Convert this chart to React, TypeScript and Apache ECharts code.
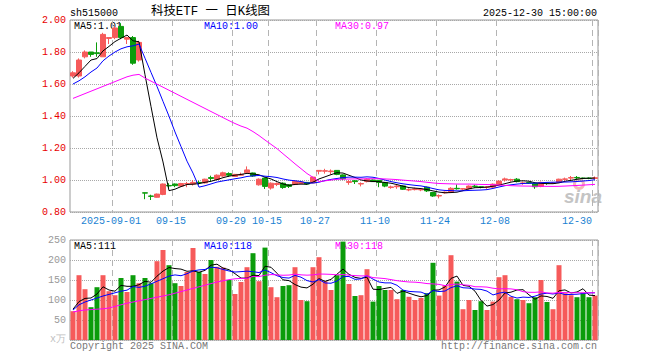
import React, { useEffect, useRef } from 'react';
import * as echarts from 'echarts';

// ---------- data ----------
const dates = [
  '2025-08-21','2025-08-22','2025-08-25','2025-08-26','2025-08-27','2025-08-28','2025-08-29',
  '2025-09-01','2025-09-02','2025-09-03','2025-09-04','2025-09-05',
  '2025-09-08','2025-09-09','2025-09-10','2025-09-11','2025-09-12',
  '2025-09-15','2025-09-16','2025-09-17','2025-09-18','2025-09-19',
  '2025-09-22','2025-09-23','2025-09-24','2025-09-25','2025-09-26',
  '2025-09-29','2025-09-30','2025-10-09','2025-10-10',
  '2025-10-13','2025-10-14','2025-10-15','2025-10-16','2025-10-17',
  '2025-10-20','2025-10-21','2025-10-22','2025-10-23','2025-10-24',
  '2025-10-27','2025-10-28','2025-10-29','2025-10-30','2025-10-31',
  '2025-11-03','2025-11-04','2025-11-05','2025-11-06','2025-11-07',
  '2025-11-10','2025-11-11','2025-11-12','2025-11-13','2025-11-14',
  '2025-11-17','2025-11-18','2025-11-19','2025-11-20','2025-11-21',
  '2025-11-24','2025-11-25','2025-11-26','2025-11-27','2025-11-28',
  '2025-12-01','2025-12-02','2025-12-03','2025-12-04','2025-12-05',
  '2025-12-08','2025-12-09','2025-12-10','2025-12-11','2025-12-12',
  '2025-12-15','2025-12-16','2025-12-17','2025-12-18','2025-12-19',
  '2025-12-22','2025-12-23','2025-12-24','2025-12-25','2025-12-26',
  '2025-12-29','2025-12-30',
];

const opens = [
  1.65, 1.65, 1.77, 1.80, 1.795, 1.77, 1.885, 1.89, 1.96, 1.88,
  1.89, 1.75, 0.92, 0.90, 0.892, 0.91, 0.966, 0.975, 0.962, 0.975,
  0.975, 0.985, 0.982, 1.015, 1.003, 1.025, 1.04, 1.022, 1.03, 1.045,
  1.044, 0.97, 1.012, 0.95, 0.972, 0.98, 0.97, 0.972, 0.978, 0.985,
  0.982, 1.055, 1.055, 1.052, 1.06, 1.032, 0.985, 0.995, 0.975, 0.99,
  1.0, 0.998, 0.985, 0.953, 0.958, 0.963, 0.938, 0.94, 0.938, 0.955,
  0.922, 0.90, 0.92, 0.924, 0.948, 0.943, 0.945, 0.962, 0.958, 0.954,
  0.955, 0.972, 1.0, 1.0, 1.005, 0.978, 0.984, 0.98, 0.96, 0.982,
  0.978, 0.985, 1.004, 1.012, 1.016, 1.012, 1.012, 1.01,
];
const closes = [
  1.67, 1.75, 1.80, 1.785, 1.79, 1.91, 1.89, 1.95, 1.89, 1.89,
  1.73, 1.86, 0.918, 0.898, 0.912, 0.975, 0.963, 0.965, 0.978, 0.978,
  0.985, 0.982, 1.005, 1.01, 1.03, 1.045, 1.03, 1.035, 1.035, 1.063,
  1.025, 1.005, 0.96, 0.98, 0.978, 0.953, 0.96, 0.992, 0.988, 0.975,
  1.018, 1.06, 1.058, 1.056, 1.035, 1.008, 0.99, 0.99, 0.978, 1.005,
  0.99, 0.985, 0.962, 0.957, 0.962, 0.942, 0.94, 0.945, 0.942, 0.932,
  0.90, 0.903, 0.924, 0.948, 0.945, 0.946, 0.962, 0.958, 0.955, 0.957,
  0.974, 0.993, 1.007, 1.003, 0.99, 0.982, 0.98, 0.958, 0.985, 0.98,
  0.982, 1.005, 1.007, 1.015, 1.013, 1.01, 1.01, 1.014,
];
const lows = [
  1.64, 1.64, 1.76, 1.77, 1.77, 1.77, 1.85, 1.88, 1.88, 1.85,
  1.72, 1.74, 0.88, 0.875, 0.89, 0.905, 0.945, 0.955, 0.958, 0.955,
  0.965, 0.97, 0.978, 0.99, 1.0, 1.02, 1.02, 1.02, 1.028, 1.04,
  1.02, 0.965, 0.944, 0.94, 0.962, 0.945, 0.95, 0.968, 0.975, 0.97,
  0.98, 1.035, 1.04, 1.035, 1.03, 1.0, 0.97, 0.975, 0.96, 0.985,
  0.988, 0.955, 0.955, 0.945, 0.945, 0.938, 0.93, 0.935, 0.93, 0.925,
  0.895, 0.885, 0.915, 0.92, 0.94, 0.935, 0.94, 0.952, 0.948, 0.945,
  0.95, 0.968, 0.99, 0.99, 0.985, 0.97, 0.975, 0.945, 0.955, 0.97,
  0.975, 0.982, 0.995, 1.0, 1.005, 1.005, 1.005, 1.005,
];
const highs = [
  1.68, 1.76, 1.81, 1.80, 1.86, 1.92, 1.89, 1.96, 1.98, 1.895,
  1.90, 1.87, 0.921, 0.908, 0.915, 0.978, 0.98, 0.978, 0.982, 0.988,
  1.00, 0.995, 1.008, 1.027, 1.035, 1.052, 1.048, 1.038, 1.046, 1.085,
  1.046, 1.01, 1.015, 0.985, 0.985, 0.985, 0.975, 0.997, 0.99, 0.988,
  1.02, 1.062, 1.07, 1.066, 1.062, 1.035, 1.0, 1.0, 0.985, 1.01,
  1.003, 1.0, 0.988, 0.965, 0.968, 0.966, 0.948, 0.952, 0.948, 0.958,
  0.925, 0.91, 0.928, 0.955, 0.972, 0.95, 0.966, 0.97, 0.962, 0.962,
  0.978, 0.998, 1.015, 1.008, 1.012, 0.99, 0.988, 0.983, 0.99, 0.985,
  0.988, 1.008, 1.015, 1.025, 1.025, 1.015, 1.016, 1.022,
];
// volume (万手)
const volumes = [
  72, 162, 127, 82, 132, 162, 122, 112, 155, 120,
  162, 142, 155, 142, 197, 225, 187, 142, 135, 170,
  230, 170, 165, 200, 183, 181, 150, 115, 145, 182,
  217, 147, 231, 132, 107, 135, 137, 182, 100, 97,
  182, 207, 147, 125, 162, 246, 140, 110, 112, 177,
  96, 135, 125, 125, 102, 125, 108, 100, 105, 117,
  193, 111, 137, 212, 146, 77, 100, 75, 97, 75,
  96, 157, 162, 108, 102, 100, 92, 107, 150, 95,
  77, 187, 117, 112, 107, 118, 107, 111,
];

// moving-average values for the first bars (history before the window)
const ma5Head = [1.635, 1.67, 1.71, 1.75];
const ma10Head = [1.60, 1.62, 1.645, 1.675, 1.70, 1.745, 1.775, 1.80, 1.82];
const ma30Head = [
  1.51, 1.525, 1.54, 1.555, 1.57, 1.585, 1.60, 1.615, 1.63, 1.645,
  1.655, 1.66, 1.637, 1.618, 1.599, 1.58, 1.561, 1.542, 1.523, 1.504,
  1.485, 1.466, 1.447, 1.428, 1.409, 1.39, 1.371, 1.353, 1.337,
];
const vma5Head = [77, 96, 104, 105];
const vma10Head = [75, 88, 95, 100, 105, 110, 114, 118, 122];
const vma30Head = [
  70, 73, 75, 76, 77, 78, 80, 84, 88, 92,
  95, 98, 101, 104, 107, 110, 113, 117, 121, 125,
  129, 133, 137, 141, 145, 148, 151, 153, 154,
];

const tickDates = ['2025-09-01','2025-09-15','2025-09-29','2025-10-15','2025-10-27','2025-11-10','2025-11-24','2025-12-08','2025-12-30'];
const tickTexts = ['2025-09-01','09-15','09-29','10-15','10-27','11-10','11-24','12-08','12-30'];
const priceTicks = { min: 0.8, max: 2.0, step: 0.2 };
const volTicks = { min: 0, max: 250, step: 50 };

const symbolCode = 'sh515000';
const titleText = '科技ETF 一 日K线图';

// ---------- helpers ----------
function movingAvg(src: number[], n: number, head: number[]): number[] {
  return src.map((_, i) => {
    if (i < n - 1) return head[i];
    let s = 0;
    for (let k = i - n + 1; k <= i; k++) s += src[k];
    return s / n;
  });
}

const RED = '#f65a5a';
const GREEN = '#0b9c0b';
const MONO = "'Liberation Mono','DejaVu Sans Mono',monospace";

export default function App() {
  const ref = useRef<HTMLDivElement>(null);

  useEffect(() => {
    if (!ref.current) return;
    const chart = echarts.init(ref.current, undefined, { renderer: 'svg' });

    const n = dates.length;
    const ma5 = movingAvg(closes, 5, ma5Head);
    const ma10 = movingAvg(closes, 10, ma10Head);
    const ma30 = movingAvg(closes, 30, ma30Head);
    const vma5 = movingAvg(volumes, 5, vma5Head);
    const vma10 = movingAvg(volumes, 10, vma10Head);
    const vma30 = movingAvg(volumes, 30, vma30Head);
    const candles = dates.map((_, i) => [opens[i], closes[i], lows[i], highs[i]]);
    const volData = volumes.map((v, i) => ({
      value: v,
      itemStyle: { color: closes[i] >= opens[i] ? RED : GREEN },
    }));
    const tickIdx = tickDates.map((d) => dates.indexOf(d));
    const isTick = (i: number) => tickIdx.indexOf(i) >= 0;

    const gridL = 70, gridW = 528;
    const labelCommon = { fontFamily: MONO, fontSize: 10 };

    const xCommon = {
      type: 'category' as const,
      data: dates,
      boundaryGap: true,
      axisLine: { show: false },
      axisTick: { show: false },
      splitLine: {
        show: true,
        interval: (i: number) => isTick(i),
        lineStyle: { color: '#b4b4b4', type: [6, 4] as any, width: 1 },
      },
    };

    const textEl = (text: string, x: number, y: number, fill: string, extra: any = {}) => ({
      type: 'text',
      x, y,
      z: 0,
      style: {
        text,
        fill,
        fontFamily: MONO,
        fontSize: 10,
        textVerticalAlign: 'middle',
        verticalAlign: 'middle',
        textAlign: 'left',
        align: 'left',
        ...extra,
      },
    });

    const last = n - 1;
    chart.setOption({
      animation: false,
      backgroundColor: '#ffffff',
      grid: [
        { left: gridL, top: 20, width: gridW, height: 192, show: true, borderColor: '#999', borderWidth: 1, backgroundColor: 'transparent' },
        { left: gridL, top: 240, width: gridW, height: 100, show: true, borderColor: '#999', borderWidth: 1, backgroundColor: 'transparent' },
      ],
      xAxis: [
        {
          ...xCommon,
          gridIndex: 0,
          axisLabel: {
            show: true,
            interval: (i: number) => isTick(i),
            margin: 4,
            color: '#1a82d2',
            ...labelCommon,
            formatter: (_v: string, i: number) => {
              const k = tickIdx.indexOf(i);
              if (k < 0) return '';
              return k === tickIdx.length - 1 ? `{b|${tickTexts[k]}}` : `{a|${tickTexts[k]}}`;
            },
            rich: {
              a: { padding: [0, 8, 0, 0], color: '#1a82d2', ...labelCommon },
              b: { padding: [0, 36, 0, 0], color: '#1a82d2', ...labelCommon },
            },
          },
        },
        { ...xCommon, gridIndex: 1, axisLabel: { show: false } },
      ],
      yAxis: [
        {
          type: 'value',
          gridIndex: 0,
          min: priceTicks.min,
          max: priceTicks.max,
          interval: priceTicks.step,
          axisLine: { show: false },
          axisTick: { show: false },
          splitLine: { show: true, lineStyle: { color: '#a8a8a8', type: [1, 1] as any } },
          axisLabel: { color: '#e80000', margin: 4, ...labelCommon, formatter: (v: number) => v.toFixed(2) },
        },
        {
          type: 'value',
          gridIndex: 1,
          min: volTicks.min,
          max: volTicks.max,
          interval: volTicks.step,
          axisLine: { show: false },
          axisTick: { show: false },
          splitLine: { show: true, lineStyle: { color: '#a8a8a8', type: [1, 1] as any } },
          axisLabel: { color: '#999', margin: 4, ...labelCommon, formatter: (v: number) => (v === 0 ? '' : String(v)) },
        },
      ],
      series: [
        {
          type: 'candlestick',
          xAxisIndex: 0,
          yAxisIndex: 0,
          data: candles,
          barWidth: 5,
          z: 3,
          itemStyle: { color: RED, color0: GREEN, borderColor: RED, borderColor0: GREEN, borderWidth: 1 },
        },
        { type: 'line', xAxisIndex: 0, yAxisIndex: 0, data: ma5, symbol: 'none', z: 4, lineStyle: { color: '#000', width: 1 } },
        { type: 'line', xAxisIndex: 0, yAxisIndex: 0, data: ma10, symbol: 'none', z: 4, lineStyle: { color: '#0000ff', width: 1 } },
        { type: 'line', xAxisIndex: 0, yAxisIndex: 0, data: ma30, symbol: 'none', z: 4, lineStyle: { color: '#ff00ff', width: 1 } },
        { type: 'bar', xAxisIndex: 1, yAxisIndex: 1, data: volData, barWidth: 5, z: 3 },
        { type: 'line', xAxisIndex: 1, yAxisIndex: 1, data: vma5, symbol: 'none', z: 4, lineStyle: { color: '#000', width: 1 } },
        { type: 'line', xAxisIndex: 1, yAxisIndex: 1, data: vma10, symbol: 'none', z: 4, lineStyle: { color: '#0000ff', width: 1 } },
        { type: 'line', xAxisIndex: 1, yAxisIndex: 1, data: vma30, symbol: 'none', z: 4, lineStyle: { color: '#ff00ff', width: 1 } },
      ],
      graphic: [
        textEl(symbolCode, 70, 13, '#000'),
        textEl(titleText, 151, 12, '#000', { fontSize: 12.4, fontFamily: "'Liberation Mono','Noto Sans CJK SC',monospace" }),
        textEl(`${dates[last]} 15:00:00`, 597, 13, '#000', { textAlign: 'right', align: 'right' }),
        textEl(`MA5:${ma5[last].toFixed(2)}`, 74, 26, '#000'),
        textEl(`MA10:${ma10[last].toFixed(2)}`, 204, 26, '#0000ff'),
        textEl(`MA30:${ma30[last].toFixed(2)}`, 335, 26, '#ff00ff'),
        textEl(`MA5:${Math.round(vma5[last])}`, 74, 246, '#000'),
        textEl(`MA10:${Math.round(vma10[last])}`, 204, 246, '#0000ff'),
        textEl(`MA30:${Math.round(vma30[last])}`, 335, 246, '#ff00ff'),
        textEl('x万', 50, 339, '#c0c0c0'),
        textEl('Copyright 2025 SINA.COM', 70, 346, '#777'),
        textEl('http://finance.sina.com.cn', 597, 346, '#777', { textAlign: 'right', align: 'right' }),
        { type: 'ring', z: 0, shape: { cx: 579, cy: 184, r: 6, r0: 3 }, style: { fill: '#f4b8b8' } },
        textEl('sina', 564, 196, '#c4c4c4', { fontSize: 19, fontStyle: 'italic', fontWeight: 'bold', fontFamily: "'Liberation Sans',Arial,sans-serif" }),
      ],
    });

    return () => chart.dispose();
  }, []);

  return (
    <div
      ref={ref}
      style={{ position: 'absolute', left: 0, top: 0, width: 660, height: 360, background: '#fff' }}
    />
  );
}
